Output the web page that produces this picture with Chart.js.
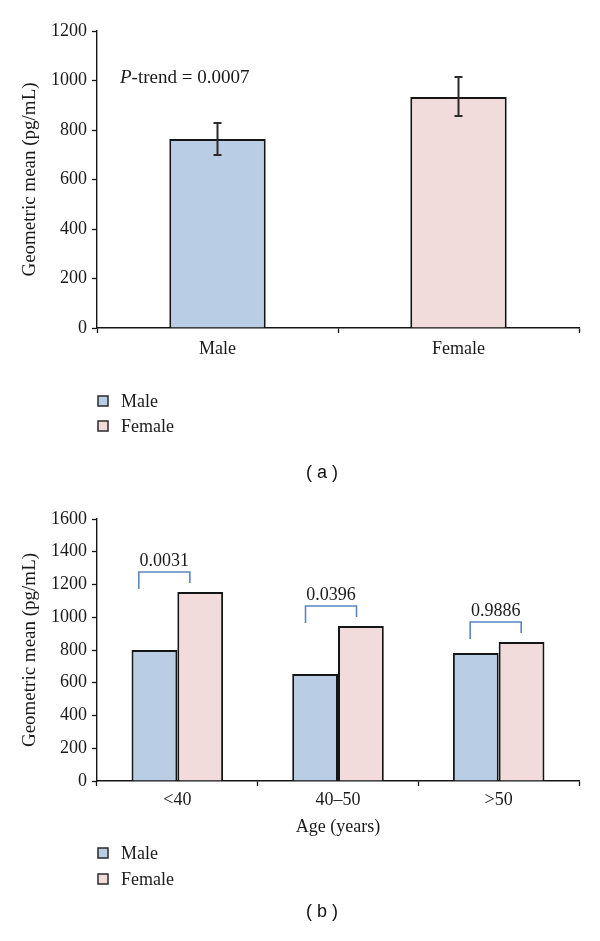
<!DOCTYPE html>
<html>
<head>
<meta charset="utf-8">
<script src="https://cdn.jsdelivr.net/npm/chart.js@4.4.0/dist/chart.umd.min.js"></script>
<style>
  html, body { margin: 0; padding: 0; background: #fff; }
  canvas { position: absolute; left: 0; }
  #chartA { top: 0; }
  #chartB { top: 490px; }
</style>
</head>
<body>
<canvas id="chartA" width="600" height="490"></canvas>
<canvas id="chartB" width="600" height="451"></canvas>
<script>
// (a) geometric mean by sex, with 95% CI
const sexLabels = ['Male', 'Female'];
const sexMeans = [764, 933];
const sexLower = [699, 857];
const sexUpper = [828, 1014];
const pTrend = '0.0007';
const ticksA = [0, 200, 400, 600, 800, 1000, 1200];

// (b) geometric mean by age group and sex
const ageLabels = ['<40', '40\u201350', '>50'];
const maleByAge = [800, 653, 782];
const femaleByAge = [1154, 947, 849];
const pByAge = ['0.0031', '0.0396', '0.9886'];
const ticksB = [0, 200, 400, 600, 800, 1000, 1200, 1400, 1600];

const maleColor = '#b9cde5';
const femaleColor = '#f2dcdb';
const ink = '#151515';
const bracketColor = '#5b87be';
const bracketShift = [-13, -7, -3];
const serif = "'Liberation Serif', 'Times New Roman', serif";

Chart.defaults.font.family = serif;
Chart.defaults.font.size = 18;
Chart.defaults.color = '#1a1a1a';

function yAxis(max, ticks) {
    return {
        min: 0,
        max: max,
        afterBuildTicks: s => { s.ticks = ticks.map(v => ({ value: v })); },
        afterFit: s => { s.width = 97; },
        grid: { drawOnChartArea: false, tickLength: 5, tickColor: ink, tickWidth: 1.3 },
        border: { color: ink, width: 1.4 },
        ticks: { padding: 5, callback: v => String(v) },
        title: {
            display: true,
            text: 'Geometric mean (pg/mL)',
            font: { size: 19 },
            padding: { top: 19, bottom: 0 }
        }
    };
}

// legend + panel caption, drawn under the plot
const notes = {
    id: 'notes',
    afterDraw(chart, args, opts) {
        const ctx = chart.ctx;
        ctx.save();
        const items = [['Male', maleColor], ['Female', femaleColor]];
        items.forEach((it, i) => {
            const cy = opts.legendY[i];
            ctx.fillStyle = it[1];
            ctx.fillRect(98, cy - 5, 10, 10);
            ctx.strokeStyle = '#2a2a2a';
            ctx.lineWidth = 1.5;
            ctx.strokeRect(98, cy - 5, 10, 10);
            ctx.fillStyle = '#1a1a1a';
            ctx.font = '18px ' + serif;
            ctx.textAlign = 'left';
            ctx.textBaseline = 'middle';
            ctx.fillText(it[0], 121, cy + 1);
        });
        ctx.font = "18px 'Liberation Sans', Arial, sans-serif";
        ctx.textAlign = 'center';
        ctx.fillStyle = '#111';
        ctx.fillText(opts.caption, 322, opts.captionY);
        ctx.restore();
    }
};

const errorBars = {
    id: 'errorBars',
    afterDatasetsDraw(chart) {
        const ctx = chart.ctx, y = chart.scales.y;
        ctx.save();
        ctx.strokeStyle = '#2b2b2b';
        ctx.lineWidth = 2;
        chart.data.datasets.forEach((ds, di) => {
            chart.getDatasetMeta(di).data.forEach((bar, i) => {
                if (ds.data[i] == null) return;
                const top = y.getPixelForValue(sexUpper[i]);
                const bot = y.getPixelForValue(sexLower[i]);
                ctx.beginPath();
                ctx.moveTo(bar.x, top); ctx.lineTo(bar.x, bot);
                ctx.moveTo(bar.x - 4, top); ctx.lineTo(bar.x + 4, top);
                ctx.moveTo(bar.x - 4, bot); ctx.lineTo(bar.x + 4, bot);
                ctx.stroke();
            });
        });
        // P-trend note
        const tx = chart.chartArea.left + 23, ty = y.getPixelForValue(1010);
        ctx.fillStyle = '#1a1a1a';
        ctx.textBaseline = 'middle';
        ctx.textAlign = 'left';
        ctx.font = 'italic 19px ' + serif;
        ctx.fillText('P', tx, ty);
        const w = ctx.measureText('P').width;
        ctx.font = '19px ' + serif;
        ctx.fillText('-trend = ' + pTrend, tx + w, ty);
        ctx.restore();
    }
};

const brackets = {
    id: 'brackets',
    afterDatasetsDraw(chart) {
        const ctx = chart.ctx;
        const m = chart.getDatasetMeta(0).data, f = chart.getDatasetMeta(1).data;
        ctx.save();
        ctx.strokeStyle = bracketColor;
        ctx.lineWidth = 1.6;
        ctx.fillStyle = '#1a1a1a';
        ctx.font = '18px ' + serif;
        ctx.textAlign = 'center';
        ctx.textBaseline = 'middle';
        pByAge.forEach((p, i) => {
            const cx = (m[i].x + f[i].x) / 2 + bracketShift[i];
            const top = Math.min(m[i].y, f[i].y) - 20;
            ctx.beginPath();
            ctx.moveTo(cx - 25.5, top + 17);
            ctx.lineTo(cx - 25.5, top);
            ctx.lineTo(cx + 25.5, top);
            ctx.lineTo(cx + 25.5, top + 11);
            ctx.stroke();
            ctx.fillText(p, cx, top - 11);
        });
        ctx.restore();
    }
};

new Chart(document.getElementById('chartA'), {
    type: 'bar',
    data: {
        labels: sexLabels,
        datasets: [
            { label: 'Male', data: [sexMeans[0], null], backgroundColor: maleColor },
            { label: 'Female', data: [null, sexMeans[1]], backgroundColor: femaleColor }
        ]
    },
    options: {
        responsive: false,
        animation: false,
        skipNull: true,
        borderColor: ink,
        borderWidth: 2,
        categoryPercentage: 0.4,
        barPercentage: 1,
        layout: { padding: { left: 0, right: 21, top: 31, bottom: 132 } },
        scales: {
            x: {
                afterFit: s => { s.height = 30; },
                grid: { drawOnChartArea: false, tickLength: 5, tickColor: ink, tickWidth: 1.3 },
                border: { color: ink, width: 1.4 },
                ticks: { padding: 5 }
            },
            y: yAxis(1200, ticksA)
        },
        plugins: {
            legend: { display: false },
            tooltip: { enabled: false },
            notes: { legendY: [401, 426], caption: '( a )', captionY: 473 }
        }
    },
    plugins: [errorBars, notes]
});

new Chart(document.getElementById('chartB'), {
    type: 'bar',
    data: {
        labels: ageLabels,
        datasets: [
            { label: 'Male', data: maleByAge, backgroundColor: maleColor },
            { label: 'Female', data: femaleByAge, backgroundColor: femaleColor }
        ]
    },
    options: {
        responsive: false,
        animation: false,
        borderColor: ink,
        borderWidth: 2,
        categoryPercentage: 0.57,
        barPercentage: 1,
        layout: { padding: { left: 0, right: 21, top: 29, bottom: 100 } },
        scales: {
            x: {
                afterFit: s => { s.height = 60; },
                grid: { drawOnChartArea: false, tickLength: 5, tickColor: ink, tickWidth: 1.3 },
                border: { color: ink, width: 1.4 },
                ticks: { padding: 3 },
                title: {
                    display: true,
                    text: 'Age (years)',
                    font: { size: 18 },
                    padding: { top: 0, bottom: 3 }
                }
            },
            y: yAxis(1600, ticksB)
        },
        plugins: {
            legend: { display: false },
            tooltip: { enabled: false },
            notes: { legendY: [363, 389], caption: '( b )', captionY: 422 }
        }
    },
    plugins: [brackets, notes]
});
</script>
</body>
</html>
